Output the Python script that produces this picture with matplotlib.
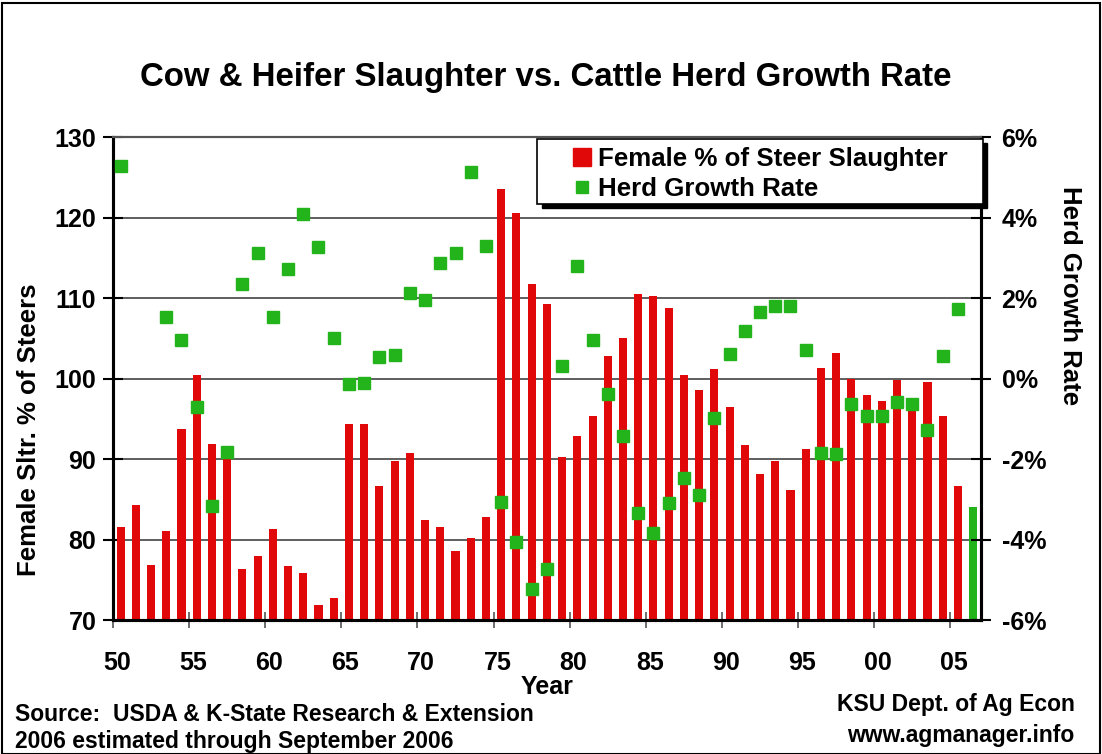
import numpy as np
import matplotlib
matplotlib.use("Agg")
import matplotlib.pyplot as plt
from matplotlib.lines import Line2D
from matplotlib.patches import Rectangle

plt.rcParams["font.family"] = ["Liberation Sans", "DejaVu Sans"]
plt.rcParams["font.weight"] = "bold"
plt.rcParams["axes.labelweight"] = "bold"

BAR_RED = "#E00808"
DOT_GREEN = "#22B41A"

years = np.arange(1950, 2007)

# female slaughter as % of steer slaughter (left axis)
female_pct = [
    81.5, 84.3, 76.8, 81.0, 93.7, 100.4, 91.9, 91.0, 76.3, 77.9,   # 1950-59
    81.3, 76.7, 75.8, 71.9, 72.7, 94.3, 94.3, 86.7, 89.8, 90.7,    # 1960-69
    82.4, 81.5, 78.6, 80.2, 82.8, 123.5, 120.6, 111.8, 109.2, 90.2,  # 1970-79
    92.9, 95.3, 102.8, 105.0, 110.5, 110.2, 108.8, 100.4, 98.6, 101.2,  # 1980-89
    96.5, 91.8, 88.1, 89.8, 86.2, 91.3, 101.3, 103.2, 100.0, 98.0,  # 1990-99
    97.2, 99.8, 97.0, 99.6, 95.3, 86.6, 84.1,                       # 2000-06
]

# herd growth rate, % (right axis); no points for 1951-52 and 2006
herd_growth = [
    5.27, np.nan, np.nan, 1.52, 0.95, -0.72, -3.17, -1.83, 2.34, 3.12,
    1.52, 2.72, 4.08, 3.26, 1.00, -0.14, -0.10, 0.53, 0.58, 2.12,
    1.96, 2.87, 3.12, 5.13, 3.30, -3.07, -4.05, -5.24, -4.74, 0.32,
    2.79, 0.95, -0.39, -1.43, -3.35, -3.85, -3.10, -2.46, -2.90, -0.97,
    0.60, 1.19, 1.65, 1.80, 1.80, 0.72, -1.84, -1.88, -0.64, -0.93,
    -0.92, -0.59, -0.64, -1.27, 0.57, 1.72, np.nan,
]

year_labels = ["50", "55", "60", "65", "70", "75", "80", "85", "90", "95", "00", "05"]

fig = plt.figure(figsize=(11.02, 7.54), dpi=100)
ax = fig.add_axes([0.1025, 0.1777, 0.7875, 0.6406])
ax2 = ax.twinx()

colors = [BAR_RED] * (len(years) - 1) + [DOT_GREEN]
ax.bar(years, female_pct, width=0.53, color=colors, zorder=2)
ax2.plot(years, herd_growth, linestyle="none", marker="s", markersize=8.5,
         color=DOT_GREEN, zorder=3)

ax.set_xlim(1949.5, 2006.5)
ax.set_ylim(70, 130)
ax.set_yticks(np.arange(70, 131, 10))
# labels sit just right of the dividing ticks
ax.set_xticks(np.arange(1949.75, 2005, 5))
ax.set_xticklabels(year_labels)
ax.set_xticks(np.arange(1949.5, 2005, 5), minor=True)
ax.tick_params(axis="x", which="major", length=0, pad=22, labelsize=18)
ax.tick_params(axis="x", which="minor", length=12, direction="inout", width=1.2,
               color="#555555")
ax.tick_params(axis="y", length=14, direction="inout", width=1.5, pad=5, labelsize=18)

ax2.set_ylim(-6, 6)
ax2.set_yticks(np.arange(-6, 7, 2))
ax2.set_yticklabels([f"{v}%" for v in range(-6, 7, 2)])
ax2.tick_params(axis="y", length=14, direction="inout", width=1.5, pad=8, labelsize=18)

ax.grid(axis="y", color="#333333", linewidth=1.1)
ax.set_axisbelow(True)

for a in (ax, ax2):
    a.spines["left"].set_linewidth(2.2)
    a.spines["bottom"].set_linewidth(2.2)
    a.spines["right"].set_linewidth(2.2)
    a.spines["top"].set_linewidth(1.5)
    a.spines["top"].set_color("#555555")

ax.set_xlabel("Year", fontsize=18, labelpad=0)
ax.set_ylabel("Female Sltr. % of Steers", fontsize=18.5, labelpad=10)
ax.yaxis.label.set_y(0.393)
ax2.set_ylabel("Herd Growth Rate", fontsize=18.5, rotation=270, labelpad=26)
ax2.yaxis.label.set_y(0.671)

# legend box with hard black shadow, drawn by hand
box_x0, box_y0, box_w, box_h = 0.489, 0.861, 0.513, 0.135
ax2.add_patch(Rectangle((box_x0 + 0.005, box_y0 - 0.009), box_w, box_h,
                        transform=ax2.transAxes, facecolor="black",
                        edgecolor="black", clip_on=False, zorder=10))
ax2.add_patch(Rectangle((box_x0, box_y0), box_w, box_h, transform=ax2.transAxes,
                        facecolor="white", edgecolor="black", linewidth=1.2,
                        clip_on=False, zorder=11))

handles = [
    Line2D([], [], linestyle="none", marker="s", markersize=13, color=BAR_RED),
    Line2D([], [], linestyle="none", marker="s", markersize=8, color=DOT_GREEN),
]
leg = ax2.legend(handles, ["Female % of Steer Slaughter", "Herd Growth Rate"],
                 loc="upper left", bbox_to_anchor=(0.529, 0.979), fontsize=18.6,
                 frameon=False, handlelength=0.8, handletextpad=0.22,
                 borderpad=0, borderaxespad=0, labelspacing=0.24)
leg.set_zorder(12)

fig.text(0.495, 0.897, "Cow & Heifer Slaughter vs. Cattle Herd Growth Rate",
         ha="center", va="center", fontsize=23.8, fontweight="bold")
fig.text(0.014, 0.052, "Source:  USDA & K-State Research & Extension",
         ha="left", va="center", fontsize=16.5)
fig.text(0.014, 0.016, "2006 estimated through September 2006",
         ha="left", va="center", fontsize=16.5)
fig.text(0.975, 0.065, "KSU Dept. of Ag Econ", ha="right", va="center", fontsize=16.5)
fig.text(0.975, 0.025, "www.agmanager.info", ha="right", va="center", fontsize=16.5)

fig.patches.append(Rectangle((0.002, 0.0), 0.996, 0.996, transform=fig.transFigure,
                             fill=False, edgecolor="black", linewidth=1.5))

fig.savefig("out.png", dpi=100)
